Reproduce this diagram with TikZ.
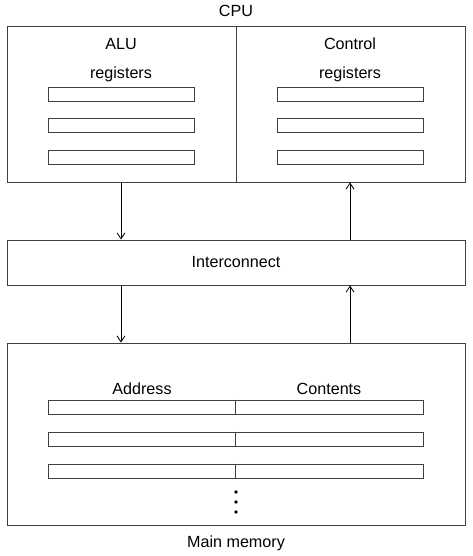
\documentclass[tikz,border=0pt]{standalone}
\usepackage{fontspec}
\setmainfont{Liberation Sans}
\usetikzlibrary{arrows.meta}
\tikzset{
  box/.style={draw=black!75, line width=0.75pt, inner sep=0pt, minimum width=458*0.75pt},
  reg/.style={draw=black!75, line width=0.75pt, inner sep=0pt, minimum width=146*0.75pt, minimum height=14*0.75pt},
  lbl/.style={anchor=base, inner sep=0pt},
  link/.style={-{Straight Barb[length=4.5pt,width=6pt]}, line width=0.6pt},
}

\begin{document}
\begin{tikzpicture}[x=0.75pt,y=-0.75pt,font=\fontsize{12.1}{14}\selectfont]
\useasboundingbox (0,0) rectangle (472,556);
\node[box, minimum height=155*0.75pt] (cpu) at (236,104.5) {};
\draw[draw=black!75, line width=0.75pt] (cpu.north) -- (cpu.south);
\node[lbl] (cpulbl) at (236,17) {CPU};
\node[lbl] (alu) at (121,50) {ALU};
\node[lbl] (ctl) at (350,50) {Control};
\node[lbl] (alureg) at (121,79) {registers};
\node[lbl] (ctlreg) at (350,79) {registers};
\foreach \y [count=\i] in {95,126,157} {
  \node[reg] (alu\i) at (121,\y) {};
  \node[reg] (ctl\i) at (350,\y) {};
}
\node[box, minimum height=45*0.75pt] (net) at (236,262.5) {Interconnect};
\node[box, minimum height=182*0.75pt] (mem) at (236,434) {};
\node[lbl] (addr) at (142,394) {Address};
\node[lbl] (cont) at (329,394) {Contents};
\foreach \y [count=\i] in {407,439,471} {
  \node[reg, minimum width=375*0.75pt] (row\i) at (235.5,\y) {};
  \draw[draw=black!75, line width=0.75pt] (row\i.north) -- (row\i.south);
}
\foreach \y in {492,502,512} \fill (236,\y) circle (1.8);
\node[lbl] (memlbl) at (236,547) {Main memory};
\draw[link] (alu1 |- cpu.south) -- (alu1 |- net.north);
\draw[link] (ctl1 |- net.north) -- (ctl1 |- cpu.south);
\draw[link] (alu1 |- net.south) -- (alu1 |- mem.north);
\draw[link] (ctl1 |- mem.north) -- (ctl1 |- net.south);
\end{tikzpicture}
\end{document}
